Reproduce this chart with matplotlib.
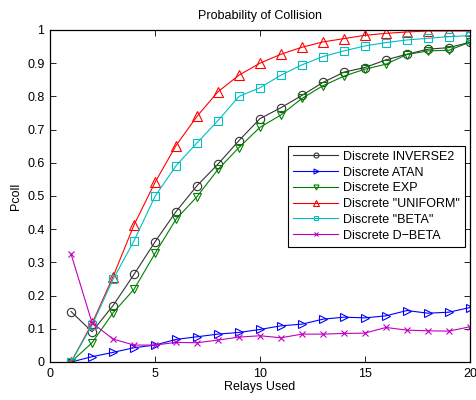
import matplotlib
matplotlib.use("Agg")
import matplotlib.pyplot as plt

plt.rcParams["font.family"] = ["Liberation Sans", "DejaVu Sans"]
plt.rcParams["font.size"] = 9

relays = list(range(1, 21))

inverse2 = [0.152, 0.091, 0.170, 0.264, 0.362, 0.453, 0.531, 0.596, 0.667, 0.733,
            0.766, 0.803, 0.842, 0.873, 0.887, 0.910, 0.927, 0.942, 0.947, 0.963]
atan = [0.0, 0.016, 0.029, 0.043, 0.051, 0.068, 0.076, 0.084, 0.089, 0.098,
        0.109, 0.114, 0.129, 0.135, 0.133, 0.139, 0.155, 0.147, 0.150, 0.164]
exp_ = [0.0, 0.058, 0.148, 0.219, 0.327, 0.430, 0.498, 0.580, 0.646, 0.707,
        0.744, 0.794, 0.832, 0.861, 0.882, 0.897, 0.926, 0.937, 0.939, 0.963]
uniform = [0.0, 0.116, 0.257, 0.413, 0.541, 0.652, 0.740, 0.814, 0.864, 0.900,
           0.927, 0.948, 0.964, 0.974, 0.984, 0.990, 0.994, 0.997, 0.997, 0.997]
beta = [0.0, 0.111, 0.249, 0.365, 0.499, 0.591, 0.660, 0.727, 0.800, 0.826,
        0.864, 0.895, 0.920, 0.937, 0.952, 0.962, 0.970, 0.975, 0.980, 0.983]
dbeta = [0.325, 0.118, 0.069, 0.051, 0.051, 0.059, 0.058, 0.066, 0.075, 0.079,
         0.073, 0.084, 0.084, 0.086, 0.087, 0.104, 0.096, 0.094, 0.093, 0.106]

series = [
    ("Discrete INVERSE2", inverse2, "#333333", "o", 6),
    ("Discrete ATAN", atan, (0, 0, 1), ">", 6),
    ("Discrete EXP", exp_, (0, 0.5, 0), "v", 6),
    ('Discrete "UNIFORM"', uniform, (1, 0, 0), "^", 6.5),
    ('Discrete "BETA"', beta, (0, 0.75, 0.75), "s", 5.5),
    ("Discrete D\u2212BETA", dbeta, (0.75, 0, 0.75), "x", 5),
]

fig = plt.figure(figsize=(4.77, 4.0), dpi=100)
ax = fig.add_axes([0.105, 0.095, 0.88, 0.83])

for label, vals, color, marker, ms in series:
    ax.plot(relays, vals, color=color, marker=marker, markersize=ms,
            markerfacecolor="none", markeredgecolor=color, markeredgewidth=0.8,
            linewidth=0.8, label=label)

ax.set_xlim(0, 20)
ax.set_ylim(0, 1)
ax.set_xticks([0, 5, 10, 15, 20])
ax.set_yticks([i / 10 for i in range(11)])
ax.set_yticklabels(["0", "0.1", "0.2", "0.3", "0.4", "0.5", "0.6", "0.7", "0.8", "0.9", "1"])
ax.tick_params(direction="in", top=True, right=True, length=4, width=0.6, pad=4)
for s in ax.spines.values():
    s.set_linewidth(0.9)

ax.set_title("Probability of Collision", fontsize=9, pad=8)
ax.set_xlabel("Relays Used", labelpad=1)
ax.set_ylabel("Pcoll", labelpad=4)

leg = ax.legend(loc="upper left", bbox_to_anchor=(0.567, 0.651),
                fancybox=False, framealpha=1, edgecolor="k", handlelength=3.6,
                markerscale=0.6, borderpad=0.4, labelspacing=0.3,
                handletextpad=0.4, borderaxespad=0)
leg.get_frame().set_linewidth(0.8)

fig.savefig("out.png", dpi=100)
